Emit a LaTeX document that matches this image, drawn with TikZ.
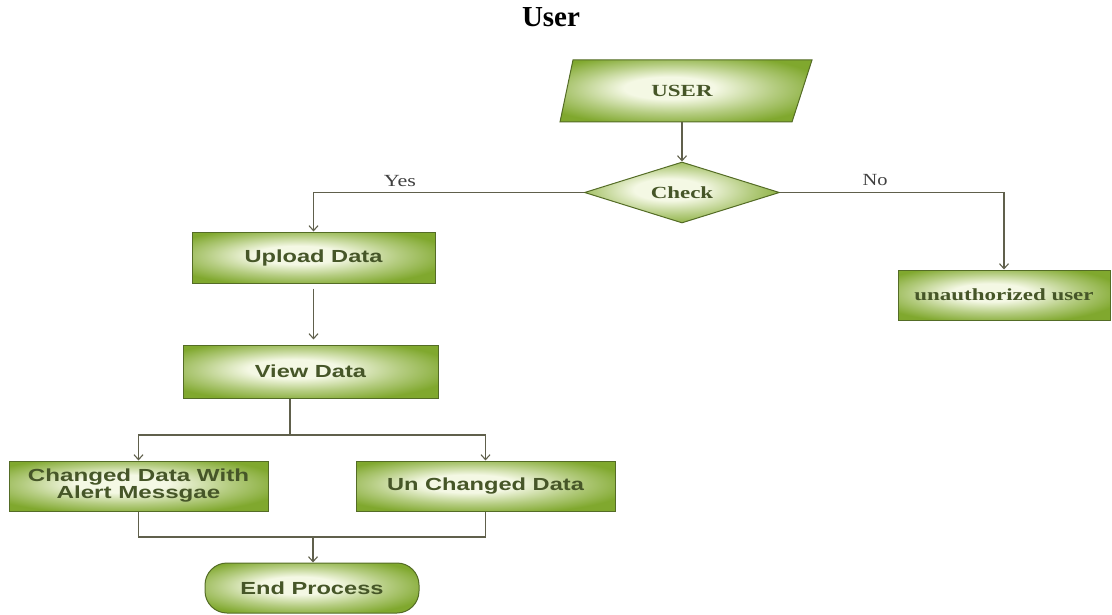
\documentclass[tikz,border=0pt]{standalone}
\usepackage{fontspec}
\setmainfont{Liberation Serif}
\newfontfamily\arialf{Liberation Sans}
\usetikzlibrary{shapes.geometric,arrows.meta}
\definecolor{gouter}{RGB}{128,168,46}
\definecolor{ginner}{RGB}{244,248,228}
\definecolor{gborder}{RGB}{84,108,38}
\definecolor{gtext}{RGB}{70,86,40}
\definecolor{lineclr}{RGB}{96,96,76}
\pgfdeclareradialshading{boxshade}{\pgfpoint{-4bp}{3bp}}{color(0bp)=(ginner); color(9bp)=(ginner); color(20bp)=(ginner!45!gouter); color(30bp)=(gouter); color(50bp)=(gouter)}
\newcommand{\sx}[1]{\scalebox{1.35}[1]{#1}}
\begin{document}
\begin{tikzpicture}[x=1pt,y=-1pt,
  shapebase/.style={draw=gborder, line width=1pt, shading=boxshade, inner sep=0pt, text=gtext},
  box/.style={shapebase, rectangle, font=\fontsize{17.5}{15.5}\selectfont\arialf\bfseries},
  serifbox/.style={shapebase, rectangle, font=\fontsize{17}{15}\selectfont\bfseries},
  lbl/.style={text=black!75, font=\fontsize{17}{18}\selectfont, inner sep=0pt},
  line/.style={draw=lineclr, line width=1.1pt},
  conn/.style={line, -{Straight Barb[length=5pt,width=9pt]}}
]
\useasboundingbox (0,0) rectangle (1112,615);

\node[font=\fontsize{29}{30}\selectfont\bfseries, anchor=base, inner sep=0pt] (title) at (551,27) {User};

% USER parallelogram
\path[draw=gborder, line width=1pt, shading=boxshade] (573,60) -- (812,60) -- (792,122) -- (560,122) -- cycle;
\node[text=gtext, font=\fontsize{17}{15}\selectfont\bfseries, minimum height=62pt, inner sep=0pt] (user) at (682,91) {\sx{USER}};

\node[shapebase, diamond, aspect=3.2, minimum width=195pt, minimum height=61pt, font=\fontsize{17}{15}\selectfont\bfseries] (check) at (682,192.5) {\sx{Check}};

\node[box, minimum width=243pt, minimum height=51pt] (upload) at (313.5,257.5) {\sx{Upload Data}};
\node[serifbox, minimum width=212pt, minimum height=50pt] (unauth) at (1004,295) {\sx{unauthorized user}};
\node[box, minimum width=255pt, minimum height=53pt] (view) at (310.5,371.5) {\sx{View Data}};
\node[box, minimum width=259pt, minimum height=50pt] (changed) at (138.5,486) {\scalebox{1.38}[1]{\begin{tabular}{@{}c@{}}Changed Data With\\Alert Messgae\end{tabular}}};
\node[box, minimum width=259pt, minimum height=50pt] (unchanged) at (485.5,486) {\sx{Un Changed Data}};
\node[box, rounded corners=22pt, minimum width=214pt, minimum height=50pt] (endp) at (312,588) {\sx{End Process}};

\node[lbl] (yes) at (400,181) {\scalebox{1.3}[1]{Yes}};
\node[lbl] (no) at (875,180) {\scalebox{1.2}[1]{No}};

\draw[conn] (user.south) -- (check.north);
\draw[conn] (check.west) -| (upload.north);
\draw[conn] (check.east) -| (unauth.north);
\draw[conn, shorten <=5pt, shorten >=5pt] (upload.south) -- (upload.south |- view.north);
\coordinate (split) at (290,435);
\draw[line] (view.south -| split) -- (split);
\draw[conn] (split) -| (changed.north);
\draw[conn] (split) -| (unchanged.north);
\coordinate (merge) at (313,537);
\draw[line] (changed.south) |- (merge);
\draw[line] (unchanged.south) |- (merge);
\draw[conn] (merge) -- (merge |- endp.north);
\end{tikzpicture}
\end{document}
